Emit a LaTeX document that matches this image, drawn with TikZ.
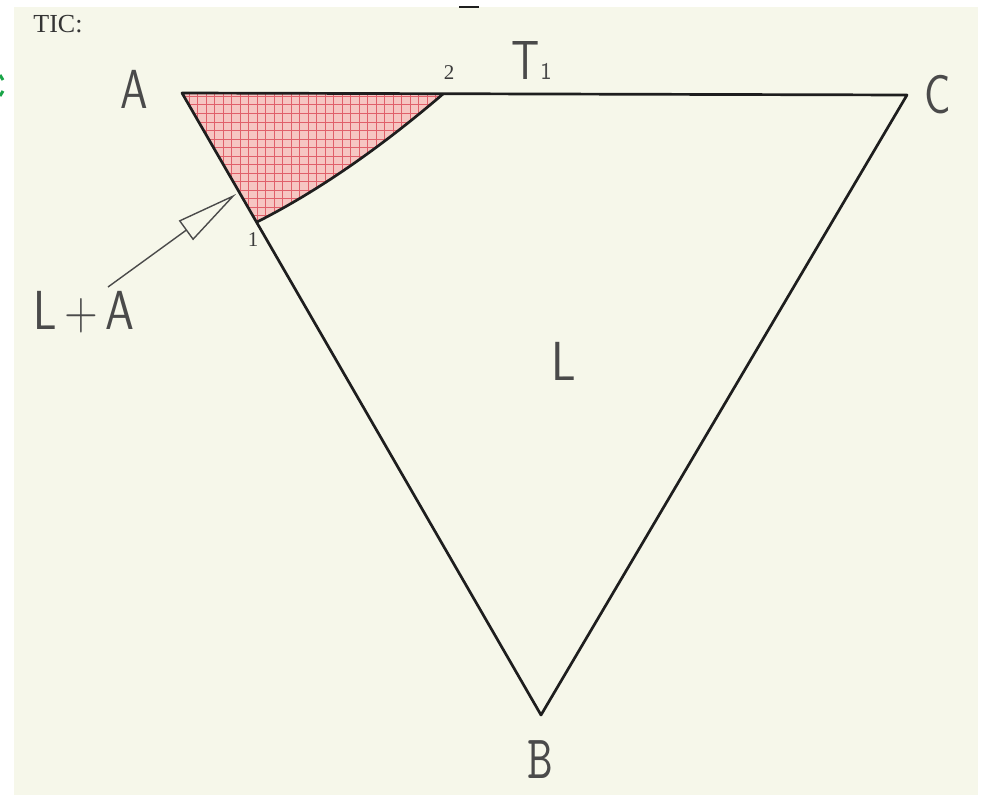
\documentclass[tikz,border=0pt]{standalone}
\usepackage{fontspec}
\usetikzlibrary{arrows.meta}
\newfontfamily\seriffnt{Liberation Serif}
\definecolor{paper}{HTML}{F6F7EA}
\definecolor{ink}{HTML}{1E1E1E}
\definecolor{txt}{HTML}{4A4A4A}
\definecolor{hatchfill}{HTML}{F6C6C2}
\definecolor{hatchline}{HTML}{E0606A}
\definecolor{greenmark}{HTML}{1AA548}
\tikzset{
  edge/.style={draw=ink, line width=2.7pt, line join=round},
  biglbl/.style={text=txt, inner sep=0pt, xscale=0.8, font=\sffamily\fontsize{55}{55}\selectfont},
  smalllbl/.style={text=txt!80!black, inner sep=0pt, font=\seriffnt\fontsize{21}{21}\selectfont},
}
\begin{document}
\begin{tikzpicture}[x=1pt,y=-1pt]
\useasboundingbox (0,0) rectangle (984,797);
\fill[white] (0,0) rectangle (984,797);
\fill[paper] (14,7) rectangle (978,795);
% stray marks at the page edges
\draw[greenmark, line width=3pt] (0,75) -- (3,80) (3,91) -- (0,96);
\draw[ink, line width=2pt] (459,7) -- (479,7);

% vertices and points
\coordinate (A) at (182,93);
\coordinate (C) at (907,95);
\coordinate (B) at (541,715);
\coordinate (p2) at (443,94);
\coordinate (p1) at (257,222);

% hatched L+A region
\begin{scope}
  \clip (A) -- (p2) .. controls (380,148) and (318,191) .. (p1) -- cycle;
  \fill[hatchfill] (170,85) rectangle (450,230);
  \foreach \x in {172,180.5,...,450} \draw[hatchline, line width=1pt] (\x,85) -- (\x,230);
  \foreach \y in {88,96.5,...,230} \draw[hatchline, line width=1pt] (170,\y) -- (450,\y);
\end{scope}
\draw[edge] (p2) .. controls (380,148) and (318,191) .. (p1);

% triangle
\draw[edge] (A) -- (C) -- (B) -- cycle;

% labels
\node[text=txt!70!black, inner sep=0pt, font=\seriffnt\fontsize{26}{26}\selectfont] (tic) at (58,24) {TIC:};
\node[biglbl] (lA) at (134,89) {A};
\node[biglbl] (lC) at (938,95) {C};
\node[text=txt, inner sep=0pt, xscale=0.8, font=\ttfamily\fontsize{62}{62}\selectfont] (lB) at (540,760) {B};
\node[biglbl, xscale=1.1] (lL) at (564,361) {L};
\node[biglbl] (lT) at (526,60) {T};
\node[text=txt, inner sep=0pt, font=\sffamily\fontsize{24}{24}\selectfont] (lT1) at (546,71) {1};
\node[smalllbl] (l2) at (449,73) {2};
\node[smalllbl] (l1) at (253,240) {1};
\node[biglbl, xscale=1.05] (lLA) at (84,312) {L\,+\,A};

% arrow
\coordinate (tip) at (236,194);
\coordinate (tail) at (108,287);
\draw[draw=txt, line width=1.4pt, -{Triangle[open, length=62pt, width=24pt, line width=1.4pt]}] (tail) -- (tip);
\end{tikzpicture}
\end{document}
